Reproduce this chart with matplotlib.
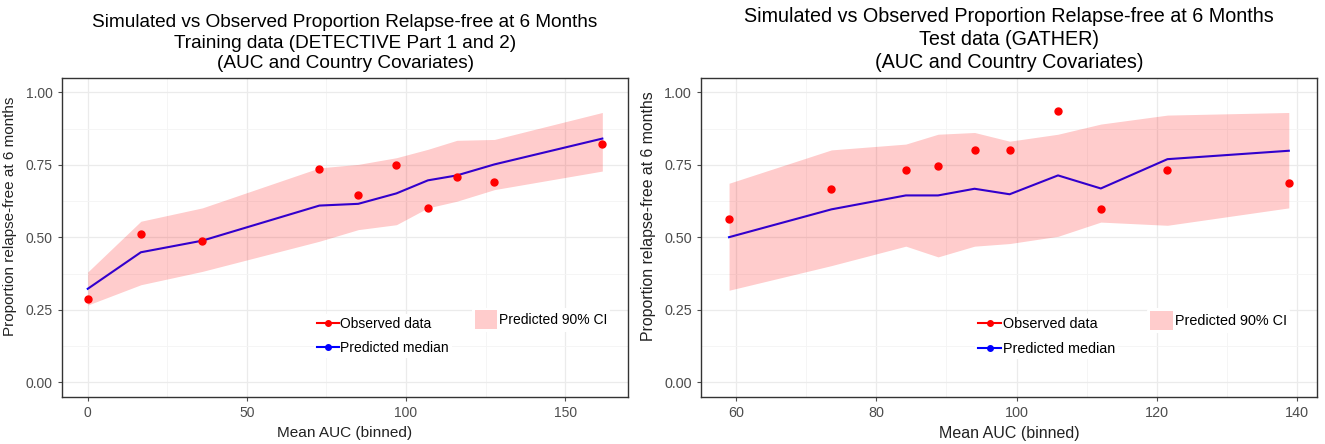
import matplotlib
matplotlib.use("Agg")
import matplotlib.pyplot as plt
from matplotlib.lines import Line2D
from matplotlib.patches import Patch
from matplotlib.ticker import MultipleLocator

plt.rcParams['font.family'] = ['Liberation Sans', 'DejaVu Sans']

# === DATA: training (DETECTIVE part 1 and 2) ===
train_auc = [0, 16.7, 36.0, 72.8, 85.0, 97.0, 106.9, 116.0, 127.8, 161.7]
train_obs = [0.287, 0.513, 0.489, 0.735, 0.645, 0.751, 0.600, 0.710, 0.691, 0.821]
train_med = [0.323, 0.449, 0.489, 0.610, 0.616, 0.652, 0.697, 0.714, 0.752, 0.841]
train_lo = [0.267, 0.337, 0.383, 0.487, 0.527, 0.544, 0.602, 0.625, 0.665, 0.729]
train_hi = [0.381, 0.556, 0.602, 0.740, 0.752, 0.775, 0.804, 0.835, 0.838, 0.931]

# === DATA: test (GATHER) ===
test_auc = [59.0, 73.6, 84.2, 88.8, 94.0, 99.0, 105.9, 112.0, 121.5, 138.8]
test_obs = [0.562, 0.668, 0.732, 0.747, 0.800, 0.800, 0.937, 0.599, 0.732, 0.688]
test_med = [0.501, 0.597, 0.645, 0.645, 0.668, 0.649, 0.714, 0.669, 0.770, 0.799]
test_lo = [0.318, 0.403, 0.470, 0.433, 0.470, 0.479, 0.504, 0.553, 0.542, 0.602]
test_hi = [0.687, 0.802, 0.822, 0.856, 0.862, 0.832, 0.856, 0.891, 0.922, 0.931]

TITLE1 = "Simulated vs Observed Proportion Relapse-free at 6 Months"
# (data..., title, major/minor x step, axes rect, text scale, ylabel x)
panels = [
    (train_auc, train_obs, train_med, train_lo, train_hi,
     TITLE1 + "\nTraining data (DETECTIVE Part 1 and 2)\n(AUC and Country Covariates)",
     50, 25, [0.0468, 0.1059, 0.4272, 0.7185], 1.0, -0.0795),
    (test_auc, test_obs, test_med, test_lo, test_hi,
     TITLE1 + "\nTest data (GATHER)\n(AUC and Country Covariates)",
     20, 10, [0.5291, 0.1059, 0.4647, 0.7185], 1.04, -0.073),
]

fig = plt.figure(figsize=(13.25, 4.44), dpi=100)

for auc, obs, med, lo, hi, title, major, minor, rect, k, ylx in panels:
    ax = fig.add_axes(rect)
    ax.plot(auc, med, color='blue', lw=1.5, zorder=3)
    ax.plot(auc, obs, 'o', color='red', ms=5, zorder=3)
    # ribbon drawn on top, as in the original ggplot
    ax.fill_between(auc, lo, hi, color='red', alpha=0.2, lw=0, zorder=4)

    span = max(auc) - min(auc)
    ax.set_xlim(min(auc) - 0.05 * span, max(auc) + 0.05 * span)
    ax.set_ylim(-0.05, 1.05)
    ax.xaxis.set_major_locator(MultipleLocator(major))
    ax.xaxis.set_minor_locator(MultipleLocator(minor))
    ax.yaxis.set_major_locator(MultipleLocator(0.25))
    ax.yaxis.set_minor_locator(MultipleLocator(0.125))
    ax.yaxis.set_major_formatter(lambda v, p: f"{v:.2f}")
    ax.grid(which='major', color='#EBEBEB', lw=0.9)
    ax.grid(which='minor', color='#F4F4F4', lw=0.6)
    ax.set_axisbelow(True)
    ax.tick_params(which='major', length=3, width=0.8, color='#4D4D4D',
                   labelcolor='#4D4D4D', labelsize=10 * k)
    ax.tick_params(which='minor', length=0)
    for s in ax.spines.values():
        s.set_color('#333333')
        s.set_linewidth(1.0)

    ax.set_title(title, fontsize=13.7 * k, pad=7, linespacing=1.27)
    ax.set_xlabel("Mean AUC (binned)", fontsize=11.1 * k, color='#222222')
    ax.set_ylabel("Proportion relapse-free at 6 months", fontsize=11 * k, color='#222222')
    ax.yaxis.set_label_coords(ylx, 0.567)

    h1 = [Line2D([], [], color='red', marker='o', ms=4, lw=1.5),
          Line2D([], [], color='blue', marker='o', ms=4, lw=1.5)]
    leg1 = ax.legend(h1, ["Observed data", "Predicted median"], loc='upper left',
                     bbox_to_anchor=(0.445, 0.26), frameon=True, fontsize=10 * k,
                     handlelength=1.6, handletextpad=0.1, labelspacing=0.75,
                     borderpad=0.2, borderaxespad=0)
    leg1.get_frame().set_edgecolor('none')
    leg1.get_frame().set_alpha(1)
    leg1.set_zorder(5)
    ax.add_artist(leg1)

    h2 = [Patch(facecolor='red', alpha=0.2, edgecolor='none')]
    leg2 = ax.legend(h2, ["Predicted 90% CI"], loc='upper left',
                     bbox_to_anchor=(0.725, 0.28), frameon=True, fontsize=10 * k,
                     handlelength=1.6, handleheight=1.7, handletextpad=0.1,
                     borderpad=0.2, borderaxespad=0)
    leg2.get_frame().set_edgecolor('none')
    leg2.get_frame().set_alpha(1)
    leg2.set_zorder(5)

fig.savefig("out.png", dpi=100)
